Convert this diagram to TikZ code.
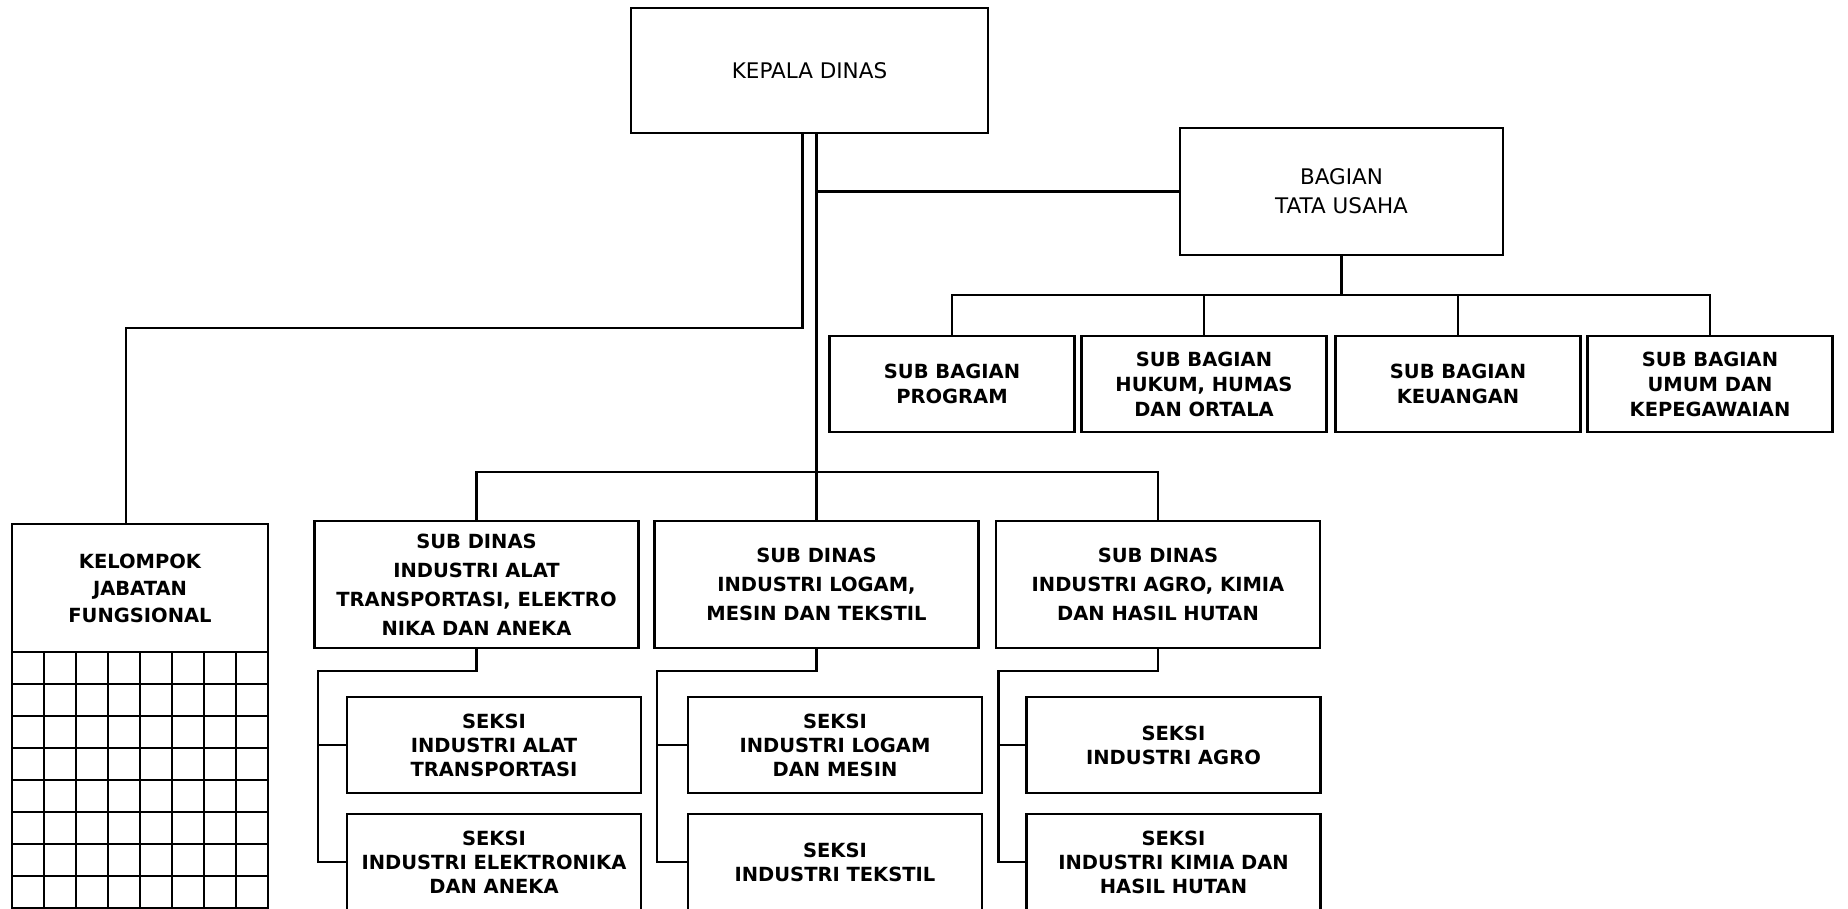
\documentclass[tikz,border=0pt]{standalone}
\usepackage{fontspec}
\setmainfont{DejaVu Sans}
\usetikzlibrary{positioning}

\begin{document}
\begin{tikzpicture}[
    x=1pt, y=-1pt,
    line width=2.7pt,
    kotak/.style={draw, line width=2.7pt, inner sep=0pt, outer sep=0pt, align=center, font=\fontsize{21.5}{25}\selectfont},
    atas/.style={kotak, font=\fontsize{21.5}{29}\selectfont},
    subbag/.style={kotak, minimum width=245pt, minimum height=96pt, font=\bfseries\fontsize{19.5}{25}\selectfont},
    subdinas/.style={kotak, minimum width=324pt, minimum height=127pt, font=\bfseries\fontsize{19.5}{29}\selectfont},
    seksi/.style={kotak, minimum width=294pt, minimum height=96pt, font=\bfseries\fontsize{19.5}{24}\selectfont}
]
\useasboundingbox (0,0) rectangle (1848,909);
\clip (0,0) rectangle (1848,909);

% pimpinan dan tata usaha
\node[atas, minimum width=357pt, minimum height=125pt] (kepala) at (809.5,70.5) {KEPALA DINAS};
\node[atas, minimum width=323pt, minimum height=127pt] (bagian) at (1341.5,191.5) {BAGIAN\\TATA USAHA};

\node[subbag] (program) at (952,384) {SUB BAGIAN\\PROGRAM};
\node[subbag] (hukum) at (1204,384) {SUB BAGIAN\\HUKUM, HUMAS\\DAN ORTALA};
\node[subbag] (keuangan) at (1458,384) {SUB BAGIAN\\KEUANGAN};
\node[subbag] (umum) at (1710,384) {SUB BAGIAN\\UMUM DAN\\KEPEGAWAIAN};

% sub dinas
\node[subdinas] (sdalat) at (476.5,584.5) {SUB DINAS\\INDUSTRI ALAT\\TRANSPORTASI, ELEKTRO\\NIKA DAN ANEKA};
\node[subdinas] (sdlogam) at (816.5,584.5) {SUB DINAS\\INDUSTRI LOGAM,\\MESIN DAN TEKSTIL};
\node[subdinas] (sdagro) at (1158,584.5) {SUB DINAS\\INDUSTRI AGRO, KIMIA\\DAN HASIL HUTAN};

% seksi
\node[seksi] (sxalat) at (494,745) {SEKSI\\INDUSTRI ALAT\\TRANSPORTASI};
\node[seksi] (sxelek) at (494,862) {SEKSI\\INDUSTRI ELEKTRONIKA\\DAN ANEKA};
\node[seksi] (sxlogam) at (835,745) {SEKSI\\INDUSTRI LOGAM\\DAN MESIN};
\node[seksi] (sxtekstil) at (835,862) {SEKSI\\INDUSTRI TEKSTIL};
\node[seksi] (sxagro) at (1173.5,745) {SEKSI\\INDUSTRI AGRO};
\node[seksi] (sxkimia) at (1173.5,862) {SEKSI\\INDUSTRI KIMIA DAN\\HASIL HUTAN};

% kelompok jabatan fungsional
\node[kotak, minimum width=256pt, minimum height=128pt, font=\bfseries\fontsize{19.5}{27}\selectfont] (jabatan) at (140,588) {KELOMPOK\\JABATAN\\FUNGSIONAL};
\draw (jabatan.south west) rectangle (268,925);
\foreach \c in {1,...,7}
    \draw (12+32*\c,652) -- (12+32*\c,925);
\foreach \r in {1,...,8}
    \draw (12,652+32*\r) -- (268,652+32*\r);

% garis hubungan
\coordinate (cabang) at (126,328);
\coordinate (busbag) at (0,295);
\coordinate (busdinas) at (0,472);

\draw ([xshift=-7pt]kepala.south) |- (cabang) -- (cabang |- jabatan.north);
\draw ([xshift=7pt]kepala.south) -- (sdlogam.north);
\draw (bagian.west) -- (bagian.west -| sdlogam.north);

\draw (bagian.south) -- (bagian.south |- busbag);
\draw (program.north) |- (umum.north |- busbag) -- (umum.north);
\draw (hukum.north) -- (hukum.north |- busbag);
\draw (keuangan.north) -- (keuangan.north |- busbag);

\draw (sdalat.north) |- (sdagro.north |- busdinas) -- (sdagro.north);

\draw (sdalat.south) -- ++(0,23) -| ([xshift=-29pt]sxalat.west) |- (sxelek.west);
\draw (sxalat.west) -- ++(-29,0);
\draw (sdlogam.south) -- ++(0,23) -| ([xshift=-31pt]sxlogam.west) |- (sxtekstil.west);
\draw (sxlogam.west) -- ++(-31,0);
\draw (sdagro.south) -- ++(0,23) -| ([xshift=-28pt]sxagro.west) |- (sxkimia.west);
\draw (sxagro.west) -- ++(-28,0);
\end{tikzpicture}
\end{document}
